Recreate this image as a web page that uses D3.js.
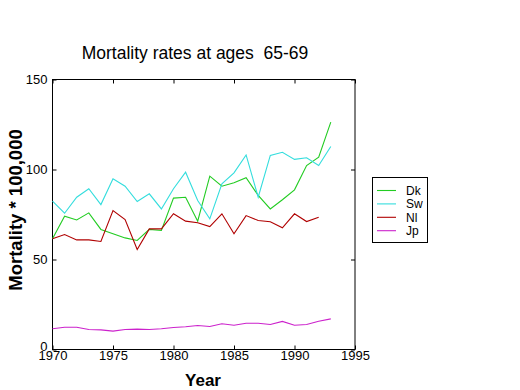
<!DOCTYPE html>
<html><head><meta charset="utf-8">
<script src="https://cdn.jsdelivr.net/npm/d3@7"></script>
<style>body{margin:0;background:#fff;} svg{display:block;font-family:"Liberation Sans",Arial,sans-serif;} text{white-space:pre;}</style>
</head><body><svg id="c" width="520" height="390"></svg>
<script>
const years = d3.range(1970, 1994);
const dk = [61.5,74.1,72,75.9,66.7,64.3,62,60.6,66.7,66.1,84.1,84.6,71.3,96.3,90.7,92.6,95.4,85.6,78.1,83.2,88.7,102.2,106.8,126.3];
const sw = [82.4,75.7,84.6,89.3,80.5,94.8,90.7,82.2,86.5,78.1,89.3,98.5,82.8,72.6,92,98.1,108.1,84.6,107.8,109.6,105.6,106.5,102.2,112.8];
const nl = [61.5,63.9,60.9,60.9,60,77.2,72.2,55.6,67,67,75.4,71.3,70.4,68.3,75.4,64.3,74.4,71.7,71,67.6,75.4,71.1,73.5];
const jp = [11.5,12.4,12.4,11.1,10.9,10.2,11.1,11.3,11.1,11.5,12.2,12.6,13.3,12.8,14.3,13.5,14.6,14.6,13.9,15.6,13.5,13.9,15.7,17];
const seriesNames = ["Dk","Sw","Nl","Jp"];
const seriesColors = ["#22cc22","#33dddd","#b00000","#cc22cc"];
const seriesData = [dk, sw, nl, jp];
const xTicks = [1970,1975,1980,1985,1990,1995];
const yTicks = [0,50,100,150];

const svg = d3.select("#c");
const L=52.5, R=355, T=79.5, B=349.5;
const x = d3.scaleLinear().domain([1970,1995]).range([L,R]);
const y = d3.scaleLinear().domain([0,150]).range([B,T]);

svg.append("rect").attr("x",L).attr("y",T).attr("width",R-L).attr("height",B-T)
  .attr("fill","none").attr("stroke","#000").attr("stroke-width",1);

const fmt = d => d;
const bx = svg.append("g").attr("transform",`translate(0,${B})`)
  .call(d3.axisBottom(x).tickValues(xTicks).tickFormat(fmt).tickSizeInner(-4).tickSizeOuter(0).tickPadding(1));
const tx = svg.append("g").attr("transform",`translate(0,${T})`)
  .call(d3.axisTop(x).tickValues(xTicks).tickFormat("").tickSizeInner(-4).tickSizeOuter(0));
const ly = svg.append("g").attr("transform",`translate(${L},0)`)
  .call(d3.axisLeft(y).tickValues(yTicks).tickFormat(fmt).tickSizeInner(-4).tickSizeOuter(0).tickPadding(5));
const ry = svg.append("g").attr("transform",`translate(${R},0)`)
  .call(d3.axisRight(y).tickValues(yTicks).tickFormat("").tickSizeInner(-4).tickSizeOuter(0));
[bx,tx,ly,ry].forEach(g=>{
  g.select(".domain").remove();
  g.selectAll("line").attr("stroke","#000");
  g.selectAll("text").attr("font-size",13).attr("fill","#000")
    .attr("font-family","Liberation Sans Narrow, Liberation Sans, Arial, sans-serif");
});
ly.selectAll(".tick").filter(d=>d===0).select("text").attr("dy","0.1em");

const line = d3.line().x((d,i)=>x(years[i])).y(d=>y(d));
seriesData.forEach((s,k)=>{
  svg.append("path").datum(s).attr("d",line).attr("fill","none")
    .attr("stroke",seriesColors[k]).attr("stroke-width",1.1);
});

svg.append("text").attr("x",195).attr("y",59).attr("text-anchor","middle")
  .attr("font-size",17.5).attr("fill","#000").text("Mortality rates at ages  65-69");
svg.append("text").attr("x",203).attr("y",386).attr("text-anchor","middle")
  .attr("font-size",17).attr("font-weight","bold").attr("fill","#000").text("Year");
svg.append("text").attr("transform","translate(22,210) rotate(-90)").attr("text-anchor","middle")
  .attr("font-size",18.5).attr("font-weight","bold").attr("fill","#000").text("Mortality * 100,000");

const lg = svg.append("g");
lg.append("rect").attr("x",372.5).attr("y",177.5).attr("width",55).attr("height",65)
  .attr("fill","#fff").attr("stroke","#000");
seriesNames.forEach((n,k)=>{
  const yy = 190.5 + k*13.4;
  lg.append("line").attr("x1",377).attr("x2",396).attr("y1",yy).attr("y2",yy)
    .attr("stroke",seriesColors[k]).attr("stroke-width",1.1);
  lg.append("text").attr("x",406).attr("y",yy+4.5).attr("font-size",12).attr("fill","#000").text(n);
});
</script></body></html>
